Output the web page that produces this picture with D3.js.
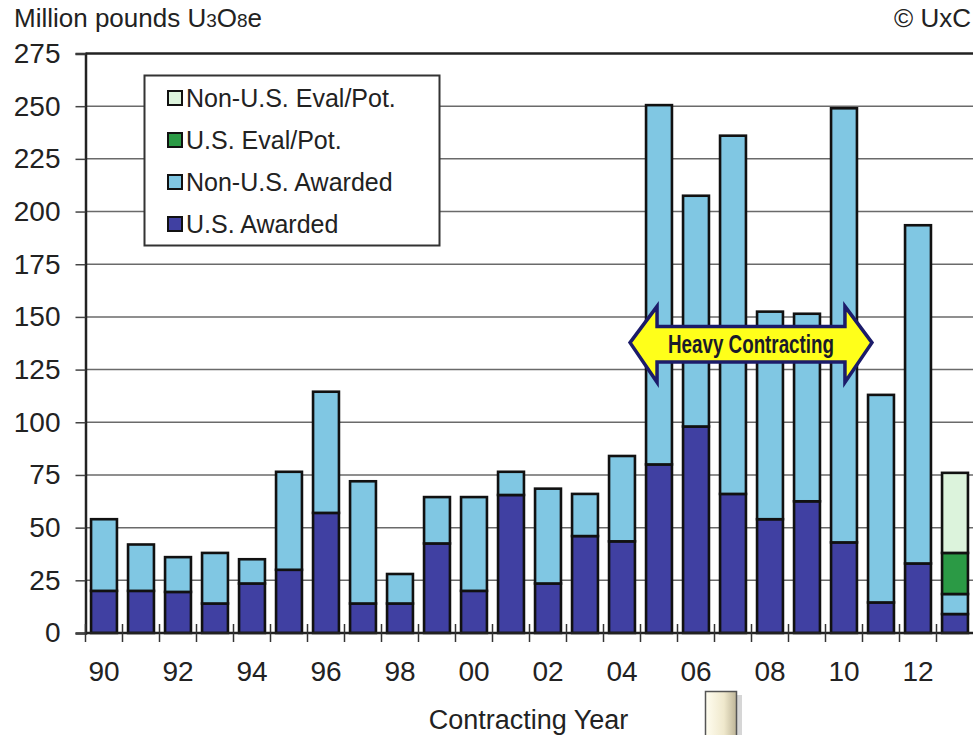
<!DOCTYPE html>
<html><head><meta charset="utf-8">
<script src="https://cdn.jsdelivr.net/npm/d3@7/dist/d3.min.js"></script>
<style>
html,body{margin:0;padding:0;background:#fff;}
svg{display:block;font-family:"Liberation Sans",Arial,sans-serif;}
</style></head>
<body>
<svg id="chart" width="973" height="735"></svg>
<script>
// ---- data ----
const years = ["90","91","92","93","94","95","96","97","98","99","00","01","02","03","04","05","06","07","08","09","10","11","12","13"];
const usAwarded    = [20,20,19.5,14,23.5,30,57,14,14,42.5,20,65.5,23.5,46,43.5,80,98,66,54,62.5,43,14.5,33,9];
const nonUsAwarded = [34,22,16.5,24,11.5,46.5,57.5,58,14,22,44.5,11,45,20,40.5,170.5,109.5,170,98.5,89,206,98.5,160.5,9.5];
const usEval       = [0,0,0,0,0,0,0,0,0,0,0,0,0,0,0,0,0,0,0,0,0,0,0,19.5];
const nonUsEval    = [0,0,0,0,0,0,0,0,0,0,0,0,0,0,0,0,0,0,0,0,0,0,0,38];
const seriesKeys   = ["usAwarded","nonUsAwarded","usEval","nonUsEval"];
const seriesNames  = {usAwarded:"U.S. Awarded",nonUsAwarded:"Non-U.S. Awarded",usEval:"U.S. Eval/Pot.",nonUsEval:"Non-U.S. Eval/Pot."};
const seriesColors = {usAwarded:"#4040a2",nonUsAwarded:"#80c7e3",usEval:"#2b9a45",nonUsEval:"#dcf3dc"};
const legendOrder  = ["nonUsEval","usEval","nonUsAwarded","usAwarded"];
const xTickLabels  = ["90","92","94","96","98","00","02","04","06","08","10","12"];
const yTicks       = [0,25,50,75,100,125,150,175,200,225,250,275];
const arrowFrom = "05", arrowTo = "10", arrowLabel = "Heavy Contracting";

(function(){
const rows = years.map((yr,i)=>({year:yr,usAwarded:usAwarded[i],nonUsAwarded:nonUsAwarded[i],usEval:usEval[i],nonUsEval:nonUsEval[i]}));

// ---- layout ----
const svg = d3.select("#chart");
const pL = 85.5, pR = 973.5, pT = 53.5, pB = 633;
const x = d3.scaleBand().domain(years).range([pL,pR]).paddingInner(0.3).paddingOuter(0.15);
const y = d3.scaleLinear().domain([0,275]).range([pB,pT]);

// gridlines
svg.append("g").selectAll("line").data(yTicks.filter(d=>d>0 && d<275)).join("line")
  .attr("x1",pL).attr("x2",973).attr("y1",d=>y(d)).attr("y2",d=>y(d))
  .attr("stroke","#6a6a6a").attr("stroke-width",1.5);
// top frame
svg.append("line").attr("x1",pL).attr("x2",973).attr("y1",y(275)).attr("y2",y(275))
  .attr("stroke","#222").attr("stroke-width",2.5);

// bars
const stack = d3.stack().keys(seriesKeys)(rows);
svg.append("g").selectAll("g").data(stack).join("g")
  .attr("fill",d=>seriesColors[d.key])
  .selectAll("rect").data(d=>d.filter(p=>p[1]-p[0]>0)).join("rect")
  .attr("x",d=>x(d.data.year)).attr("width",x.bandwidth())
  .attr("y",d=>y(d[1])).attr("height",d=>y(d[0])-y(d[1]))
  .attr("stroke","#111").attr("stroke-width",2.6);

// y axis
const yAxis = svg.append("g").attr("transform",`translate(${pL},0)`)
  .call(d3.axisLeft(y).tickValues(yTicks).tickSize(10).tickPadding(15));
yAxis.select(".domain").attr("stroke","#222").attr("stroke-width",2.5);
yAxis.selectAll(".tick line").attr("stroke","#444").attr("stroke-width",1.5);
yAxis.selectAll(".tick text").attr("font-size",28).attr("fill","#222")
  .attr("font-family","Liberation Sans, Arial, sans-serif");

// x axis line and ticks at band boundaries
svg.append("line").attr("x1",pL).attr("x2",973).attr("y1",pB).attr("y2",pB)
  .attr("stroke","#222").attr("stroke-width",2.5);
const bounds = years.map(d=>x(d)-x.step()*x.paddingInner()/2);
svg.append("g").selectAll("line").data(bounds).join("line")
  .attr("x1",d=>d).attr("x2",d=>d).attr("y1",pB-9).attr("y2",pB+9)
  .attr("stroke","#333").attr("stroke-width",1.5);
svg.append("g").selectAll("text").data(xTickLabels).join("text")
  .attr("x",d=>x(d)+x.bandwidth()/2).attr("y",681)
  .attr("text-anchor","middle").attr("font-size",28).attr("fill","#222").text(d=>d);

// axis title
svg.append("text").attr("x",(pL+pR)/2-1).attr("y",729).attr("text-anchor","middle")
  .attr("font-size",27).attr("fill","#222").text("Contracting Year");

// unit label
const t = svg.append("text").attr("x",14).attr("y",27).attr("font-size",26).attr("fill","#222");
t.append("tspan").text("Million pounds U");
t.append("tspan").attr("font-size",19).text("3");
t.append("tspan").text("O");
t.append("tspan").attr("font-size",19).text("8");
t.append("tspan").text("e");
svg.append("text").attr("x",971).attr("y",27).attr("text-anchor","end")
  .attr("font-size",26).attr("fill","#222").text("© UxC");

// legend
const lg = svg.append("g");
lg.append("rect").attr("x",144.5).attr("y",75.5).attr("width",295).attr("height",170)
  .attr("fill","#fff").attr("stroke","#333").attr("stroke-width",2);
legendOrder.forEach((k,i)=>{
  const cy = 98 + i*42;
  lg.append("rect").attr("x",168).attr("y",cy-7).attr("width",14).attr("height",14)
    .attr("fill",seriesColors[k]).attr("stroke","#111").attr("stroke-width",2);
  lg.append("text").attr("x",186).attr("y",cy+9).attr("font-size",25).attr("fill","#222").text(seriesNames[k]);
});

// Heavy Contracting arrow
const ax0 = x(arrowFrom) - 16, ax1 = x(arrowTo) + x.bandwidth() + 15;
const amid = y(137.8), hTop = y(155), hBot = y(119), bTop = y(145.4), bBot = y(128.6);
const hw = 27;
const pts = [[ax0,amid],[ax0+hw,hTop],[ax0+hw,bTop],[ax1-hw,bTop],[ax1-hw,hTop],[ax1,amid],[ax1-hw,hBot],[ax1-hw,bBot],[ax0+hw,bBot],[ax0+hw,hBot]];
svg.append("path").attr("d",d3.line()(pts)+"Z")
  .attr("fill","#ffff1a").attr("stroke","#1c1c6a").attr("stroke-width",3.5).attr("stroke-linejoin","miter");
svg.append("text").attr("x",(ax0+ax1)/2).attr("y",amid+10).attr("text-anchor","middle")
  .attr("font-size",25).attr("font-weight","bold").attr("fill","#1a1a2a")
  .attr("textLength",166).attr("lengthAdjust","spacingAndGlyphs")
  .attr("font-family","Liberation Sans Narrow, Liberation Sans, Arial, sans-serif")
  .text(arrowLabel);

// decorative button at bottom
const defs = svg.append("defs");
const gr = defs.append("linearGradient").attr("id","btn").attr("x1",0).attr("x2",1).attr("y1",0).attr("y2",0);
gr.append("stop").attr("offset","0%").attr("stop-color","#fffdf0");
gr.append("stop").attr("offset","60%").attr("stop-color","#efe8cc");
gr.append("stop").attr("offset","100%").attr("stop-color","#bdb497");
svg.append("rect").attr("x",710).attr("y",695).attr("width",32).attr("height",45).attr("fill","#bbb").attr("opacity",0.6);
svg.append("rect").attr("x",705.5).attr("y",691.5).attr("width",31).attr("height",45)
  .attr("fill","url(#btn)").attr("stroke","#555").attr("stroke-width",1.5);
})();
</script>
</body></html>
